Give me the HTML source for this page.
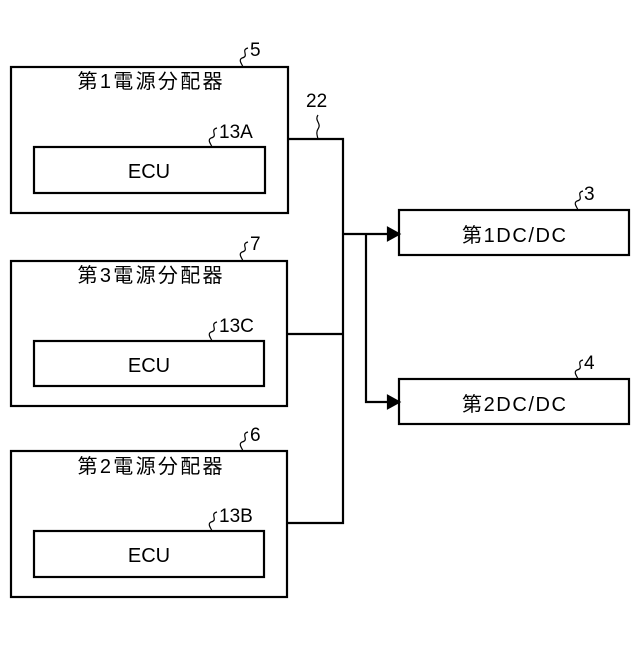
<!DOCTYPE html>
<html><head><meta charset="utf-8"><style>body{margin:0;background:#fff}</style></head><body>
<svg width="640" height="640" xmlns="http://www.w3.org/2000/svg" font-family="Liberation Sans, Noto Sans CJK JP, sans-serif" fill="none" stroke="#000" stroke-width="2.2">
<rect x="11" y="67" width="277" height="146"/>
<rect x="34" y="147" width="231" height="46"/>
<rect x="11" y="261" width="276" height="145"/>
<rect x="34" y="341" width="230" height="45"/>
<rect x="11" y="451" width="276" height="146"/>
<rect x="34" y="531" width="230" height="46"/>
<rect x="399" y="210" width="230" height="45"/>
<rect x="399" y="379" width="230" height="45"/>
<path d="M288 139H343V523H287M287 334H343M343 234H390M366 234V402H390"/>
<path d="M388 228L399 234L388 240Z M388 396L399 402L388 408Z" fill="#000"/>
<g stroke-width="1.2">
<path d="M248 48c-8 2 2 8-6 10c-4 2 0 6 1 9"/>
<path d="M248 242c-8 2 2 8-6 10c-4 2 0 6 1 9"/>
<path d="M248 432c-8 2 2 8-6 10c-4 2 0 6 1 9"/>
<path d="M217 128c-8 2 2 8-6 10c-4 2 0 6 1 9"/>
<path d="M217 322c-8 2 2 8-6 10c-4 2 0 6 1 9"/>
<path d="M217 512c-8 2 2 8-6 10c-4 2 0 6 1 9"/>
<path d="M583 191c-8 2 2 8-6 10c-4 2 0 6 1 9"/>
<path d="M583 360c-8 2 2 8-6 10c-4 2 0 6 1 9"/>
<path d="M318 115c-4 6 4 8 0 14c-2 3 -1 6 0 10"/>
</g>
<g fill="#000" stroke="none" font-size="20">
<text x="150" y="88" text-anchor="middle" textLength="145">第1電源分配器</text>
<text x="150" y="282" text-anchor="middle" textLength="145">第3電源分配器</text>
<text x="150" y="473" text-anchor="middle" textLength="145">第2電源分配器</text>
<text x="149" y="178" text-anchor="middle">ECU</text>
<text x="149" y="372" text-anchor="middle">ECU</text>
<text x="149" y="562" text-anchor="middle">ECU</text>
<text x="514" y="242" text-anchor="middle" textLength="104">第1DC/DC</text>
<text x="514" y="411" text-anchor="middle" textLength="104">第2DC/DC</text>
</g>
<g fill="#000" stroke="none" font-size="19">
<text x="250" y="56">5</text>
<text x="250" y="250">7</text>
<text x="250" y="441">6</text>
<text x="219" y="138">13A</text>
<text x="219" y="332">13C</text>
<text x="219" y="522">13B</text>
<text x="584" y="200">3</text>
<text x="584" y="369">4</text>
<text x="306" y="107">22</text>
</g>
</svg>
</body></html>
